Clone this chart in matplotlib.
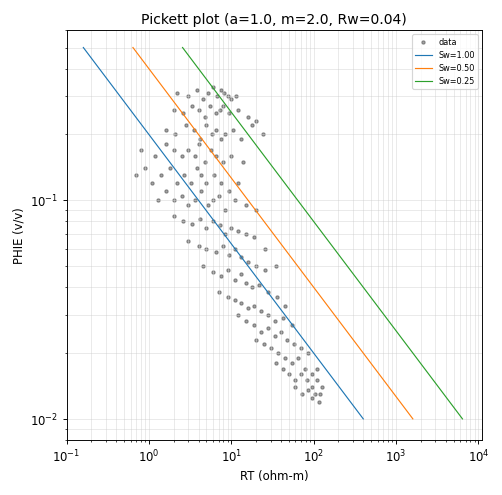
import matplotlib.pyplot as plt
import numpy as np

# Parametros de Archie
a = 1.0
m = 2.0
n = 2.0
rw = 0.04
sw_values = [1.00, 0.50, 0.25]
phi_range = [0.01, 0.5]

# Puntos (RT, PHIE)
rt = [
    2.2, 3.0, 3.8, 4.5, 5.2, 6.0, 6.8, 7.5, 8.2, 9.0, 10.0, 11.5,
    2.0, 2.6, 3.3, 4.0, 4.8, 5.5, 6.5, 7.2, 8.0, 9.5, 12.0, 16.0, 20.0,
    1.6, 2.1, 2.8, 3.5, 4.2, 5.0, 5.8, 6.6, 7.4, 8.5, 10.5, 13.0, 18.0, 24.0,
    0.8, 1.2, 1.6, 2.0, 2.5, 3.0, 3.6, 4.1, 4.8, 5.6, 6.5, 8.0, 10.0, 14.0,
    0.7, 0.9, 1.1, 1.4, 1.8, 2.2, 2.7, 3.2, 3.8, 4.3, 5.0, 6.2, 7.5, 9.5, 12.0,
    1.3, 1.6, 2.0, 2.5, 3.0, 3.6, 4.3, 5.2, 6.0, 7.0, 8.5, 11.0, 15.0, 20.0,
    2.0, 2.6, 3.3, 4.2, 5.0, 6.0, 7.2, 8.5, 10.0, 12.0, 15.0, 19.0, 26.0,
    3.0, 4.0, 5.0, 6.5, 8.0, 9.5, 11.0, 13.0, 16.0, 20.0, 26.0, 35.0,
    4.5, 6.0, 7.5, 9.0, 11.0, 13.0, 15.0, 18.0, 22.0, 28.0, 36.0, 45.0,
    7.0, 9.0, 11.0, 13.0, 16.0, 19.0, 23.0, 28.0, 34.0, 42.0, 55.0,
    12.0, 15.0, 19.0, 23.0, 28.0, 34.0, 40.0, 48.0, 58.0, 70.0, 85.0,
    20.0, 25.0, 30.0, 37.0, 45.0, 55.0, 65.0, 78.0, 95.0, 110.0,
    35.0, 42.0, 50.0, 60.0, 70.0, 82.0, 95.0, 110.0, 120.0,
    60.0, 72.0, 85.0, 95.0, 105.0, 115.0, 125.0,
]
phie = [
    0.31, 0.30, 0.32, 0.29, 0.31, 0.33, 0.30, 0.32, 0.31, 0.30, 0.29, 0.30,
    0.26, 0.25, 0.27, 0.26, 0.24, 0.27, 0.25, 0.26, 0.27, 0.25, 0.26, 0.24, 0.23,
    0.21, 0.20, 0.22, 0.21, 0.19, 0.22, 0.20, 0.21, 0.19, 0.20, 0.21, 0.19, 0.22, 0.20,
    0.17, 0.16, 0.18, 0.17, 0.16, 0.17, 0.16, 0.18, 0.15, 0.17, 0.16, 0.15, 0.16, 0.15,
    0.13, 0.14, 0.12, 0.13, 0.14, 0.12, 0.13, 0.12, 0.14, 0.13, 0.12, 0.13, 0.12, 0.11, 0.12,
    0.10, 0.11, 0.10, 0.105, 0.095, 0.10, 0.11, 0.095, 0.10, 0.105, 0.09, 0.10, 0.095, 0.09,
    0.085, 0.08, 0.078, 0.082, 0.075, 0.08, 0.077, 0.07, 0.075, 0.072, 0.07, 0.068, 0.06,
    0.065, 0.062, 0.06, 0.058, 0.062, 0.056, 0.06, 0.055, 0.052, 0.05, 0.048, 0.05,
    0.05, 0.047, 0.045, 0.048, 0.043, 0.046, 0.042, 0.04, 0.041, 0.038, 0.036, 0.033,
    0.038, 0.036, 0.035, 0.034, 0.032, 0.033, 0.031, 0.03, 0.028, 0.029, 0.027,
    0.03, 0.028, 0.027, 0.025, 0.026, 0.024, 0.025, 0.023, 0.022, 0.021, 0.02,
    0.023, 0.022, 0.021, 0.02, 0.019, 0.018, 0.019, 0.017, 0.016, 0.017,
    0.018, 0.017, 0.016, 0.015, 0.016, 0.015, 0.014, 0.015, 0.013,
    0.014, 0.013, 0.0135, 0.0125, 0.013, 0.012, 0.014,
]

fig, ax = plt.subplots(figsize=(6, 5.92), dpi=83.67)
ax.scatter(rt, phie, s=8, c='black', alpha=0.35, label='data')

phi = np.array(phi_range)
for sw in sw_values:
    rt_line = a * rw / (phi ** m * sw ** n)
    ax.plot(rt_line, phi, linewidth=1, label=f'Sw={sw:.2f}')

ax.set_xscale('log')
ax.set_yscale('log')
ax.set_xlim(0.1, 11000)
ax.set_ylim(0.008, 0.6)
ax.set_xlabel('RT (ohm-m)')
ax.set_ylabel('PHIE (v/v)')
ax.set_title('Pickett plot (a=1.0, m=2.0, Rw=0.04)')
ax.grid(True, which='both', color='#cccccc', linewidth=0.5, alpha=0.7)
ax.legend(loc='upper right', fontsize=7)

fig.tight_layout()
fig.savefig('out.png')
